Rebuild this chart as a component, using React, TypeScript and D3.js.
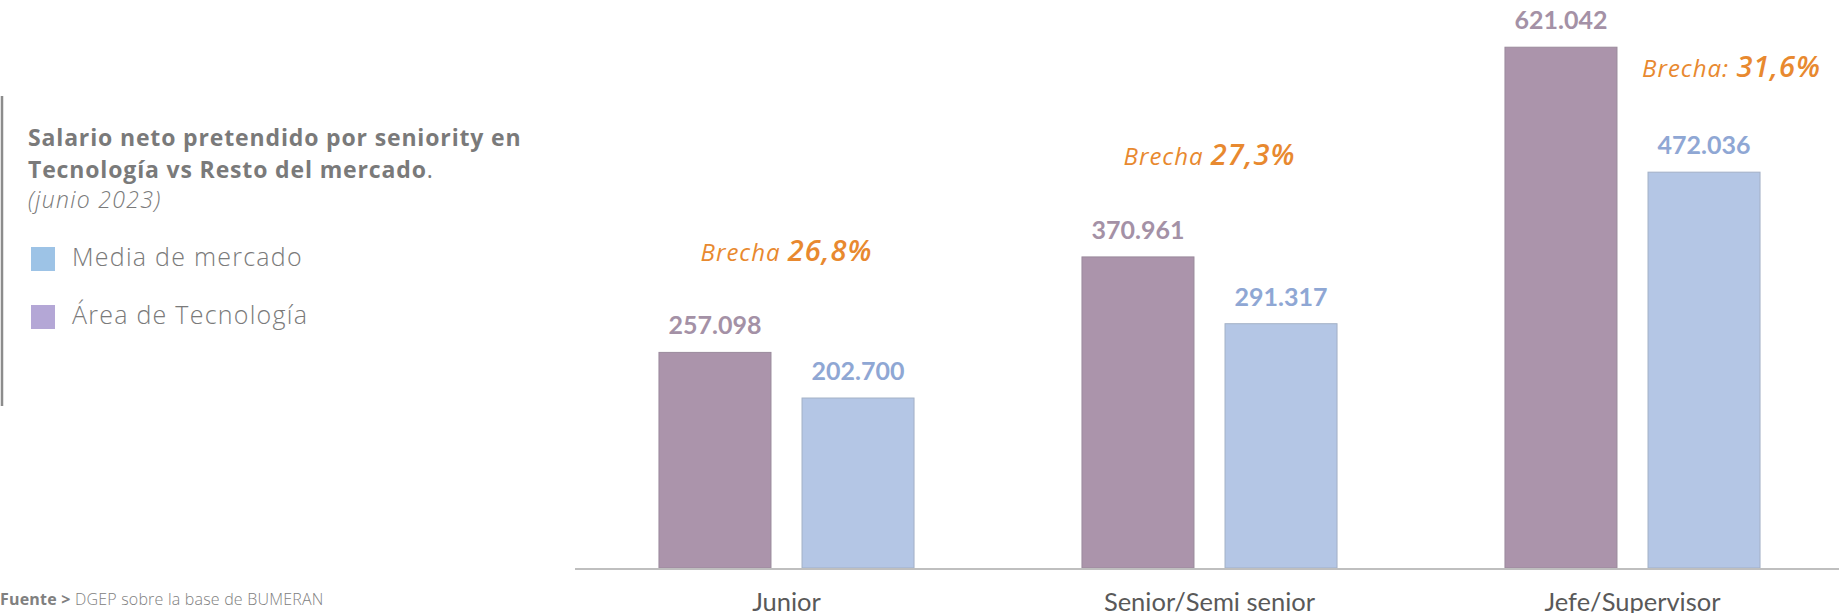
import React from "react";
import * as d3 from "d3";

const categories = ["Junior", "Senior/Semi senior", "Jefe/Supervisor"];
const seriesKeys = ["tech", "market"];
const techValues = [257098, 370961, 621042];
const marketValues = [202700, 291317, 472036];
const valueLabelsTech = ["257.098", "370.961", "621.042"];
const valueLabelsMarket = ["202.700", "291.317", "472.036"];
const gapPrefix = ["Brecha ", "Brecha ", "Brecha: "];
const gapValues = ["26,8%", "27,3%", "31,6%"];
const legendLabels = ["Media de mercado", "Área de Tecnología"];
const titleLines = ["Salario neto pretendido por seniority en", "Tecnología vs Resto del mercado"];
const subtitle = "(junio 2023)";
const sourceBold = "Fuente > ";
const sourceText = "DGEP sobre la base de BUMERAN";

const W = 1839;
const H = 613;
const SANS = "'Open Sans', Lato, sans-serif";

export default function App() {
  const x = d3
    .scaleBand<string>()
    .domain(categories)
    .range([575, 1844])
    .paddingInner(0.397)
    .paddingOuter(0.1985);
  const xs = d3
    .scaleBand<string>()
    .domain(seriesKeys)
    .range([0, x.bandwidth()])
    .paddingInner(0.217)
    .paddingOuter(0);
  const y = d3.scaleLinear().domain([0, 700000]).range([568, -19]);
  const baseY = y(0);

  const techColor = "#AB94AB";
  const marketColor = "#B4C6E5";
  const gapDx = [0, 0, 99];
  const gapY = [261, 165, 77];

  return (
    <svg
      width={W}
      height={H}
      style={{ position: "absolute", left: 0, top: 0, background: "#fff" }}
    >
      {/* left rule */}
      <line x1={2} x2={2} y1={96} y2={406} stroke="#8c8c8c" strokeWidth={2.5} />
      {/* title */}
      <text fontFamily={SANS} fontWeight={700} fontSize={23} fill="#7a7a7a" letterSpacing={0.85}>
        <tspan x={28} y={146}>{titleLines[0]}</tspan>
        <tspan x={28} y={178}>
          {titleLines[1]}
          <tspan fontWeight={400}>.</tspan>
        </tspan>
      </text>
      <text
        x={28}
        y={208}
        fontFamily={SANS}
        fontStyle="italic"
        fontWeight={300}
        fontSize={23}
        letterSpacing={1.3}
        fill="#7a7a7a"
      >
        {subtitle}
      </text>
      {/* legend */}
      {legendLabels.map((l, i) => (
        <g key={l}>
          <rect x={31} y={247 + i * 58} width={24} height={24} fill={i === 0 ? "#9DC3E6" : "#B4A7D6"} />
          <text
            x={72}
            y={266 + i * 58}
            fontFamily={SANS}
            fontWeight={300}
            fontSize={25}
            letterSpacing={1.25}
            fill="#7a7a7a"
          >
            {l}
          </text>
        </g>
      ))}
      {/* source */}
      <text x={0} y={605} fontFamily={SANS} fontSize={16} letterSpacing={0.2} fill="#808080">
        <tspan fontWeight={700}>{sourceBold}</tspan>
        <tspan fontWeight={300}>{sourceText}</tspan>
      </text>

      {/* bars */}
      {categories.map((c, i) => {
        const gx = x(c)!;
        const tX = gx + xs("tech")!;
        const mX = gx + xs("market")!;
        const bw = xs.bandwidth();
        const cx = gx + x.bandwidth() / 2;
        return (
          <g key={c}>
            <rect
              x={tX}
              y={y(techValues[i])}
              width={bw}
              height={baseY - y(techValues[i])}
              fill={techColor}
              stroke="#9a8a9c"
              strokeWidth={1}
            />
            <rect
              x={mX}
              y={y(marketValues[i])}
              width={bw}
              height={baseY - y(marketValues[i])}
              fill={marketColor}
              stroke="#a3b0c6"
              strokeWidth={1}
            />
            <text
              x={tX + bw / 2}
              y={y(techValues[i]) - 18}
              textAnchor="middle"
              fontFamily="Lato, sans-serif"
              fontWeight={700}
              fontSize={25}
              fill="#A491A6"
            >
              {valueLabelsTech[i]}
            </text>
            <text
              x={mX + bw / 2}
              y={y(marketValues[i]) - 18}
              textAnchor="middle"
              fontFamily="Lato, sans-serif"
              fontWeight={700}
              fontSize={25}
              fill="#8FA7D4"
            >
              {valueLabelsMarket[i]}
            </text>
            <text
              x={cx + gapDx[i]}
              y={gapY[i]}
              textAnchor="middle"
              fontFamily={SANS}
              fontStyle="italic"
              letterSpacing={1.0}
              fill="#E8892F"
            >
              <tspan fontSize={24} fontWeight={500}>{gapPrefix[i]}</tspan>
              <tspan fontSize={29} fontWeight={600}>{gapValues[i]}</tspan>
            </text>
            <text
              x={cx}
              y={611}
              textAnchor="middle"
              fontFamily="Lato, sans-serif"
              fontSize={25.5}
              fill="#595959"
            >
              {c}
            </text>
          </g>
        );
      })}
      {/* axis line */}
      <line x1={575} x2={W} y1={baseY + 1} y2={baseY + 1} stroke="#BFBFBF" strokeWidth={2} />
    </svg>
  );
}
